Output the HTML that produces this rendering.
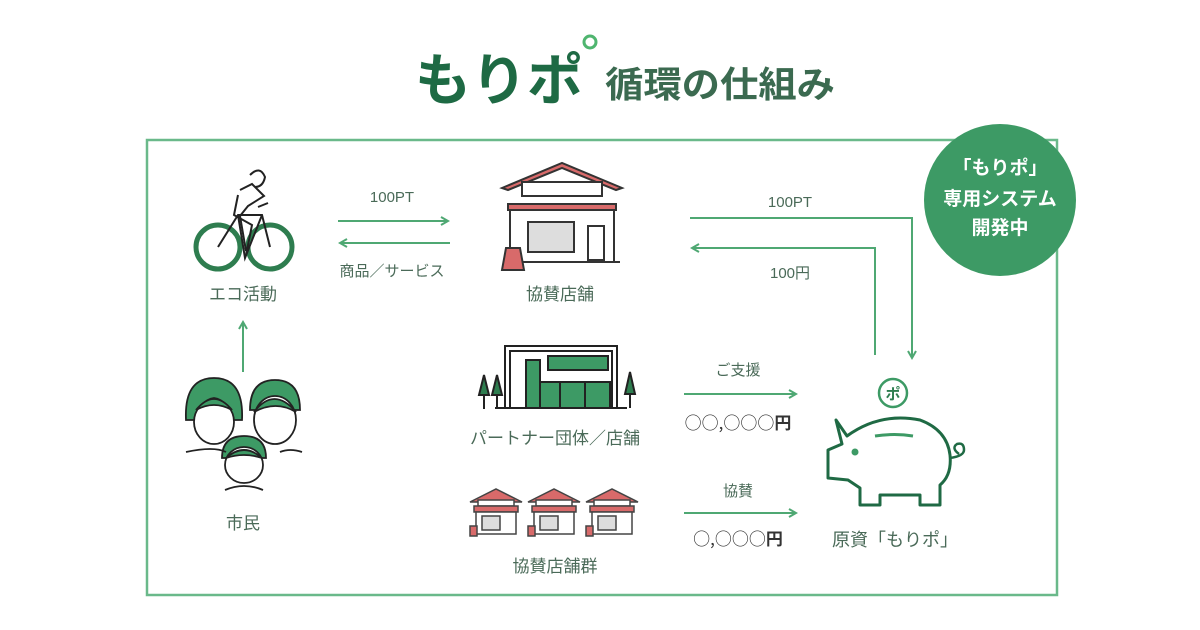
<!DOCTYPE html>
<html><head><meta charset="utf-8"><style>
html,body{margin:0;padding:0;background:#fff;width:1200px;height:630px;overflow:hidden}
svg{display:block}
text{font-family:"Liberation Sans","Noto Sans CJK JP",sans-serif}
.cjk{font-family:"Noto Sans CJK JP",sans-serif}
</style></head><body>
<svg width="1200" height="630" viewBox="0 0 1200 630" xmlns="http://www.w3.org/2000/svg">
<defs>
<marker id="ah" markerWidth="10" markerHeight="10" refX="8" refY="5" orient="auto" markerUnits="userSpaceOnUse">
<path d="M1,1 L8,5 L1,9" fill="none" stroke="#4fa873" stroke-width="2"/></marker>
</defs>
<!-- title -->
<text x="415" y="100" font-size="56" font-weight="bold" fill="#1e6a44" textLength="168" lengthAdjust="spacingAndGlyphs">もりポ</text>
<circle cx="590" cy="42" r="6" fill="none" stroke="#4fb56f" stroke-width="3"/>
<text x="605" y="97" font-size="36" font-weight="bold" fill="#3b6a50" textLength="230" lengthAdjust="spacingAndGlyphs">循環の仕組み</text>
<!-- border -->
<rect x="147" y="140" width="910" height="455" fill="none" stroke="#6ab98a" stroke-width="2.5"/>
<circle cx="1000" cy="200" r="76" fill="#3d9a65"/>
<text x="1000" y="174" font-size="19" font-weight="bold" fill="#fff" text-anchor="middle">「もりポ」</text>
<text x="1000" y="205" font-size="19" font-weight="bold" fill="#fff" text-anchor="middle">専用システム</text>
<text x="1000" y="234" font-size="19" font-weight="bold" fill="#fff" text-anchor="middle">開発中</text>
<!-- bike -->
<g fill="none" stroke="#222" stroke-width="2">
<circle cx="218" cy="247" r="22" stroke="#2e7d4f" stroke-width="5"/>
<circle cx="270" cy="247" r="22" stroke="#2e7d4f" stroke-width="5"/>
<path d="M218,247 L238,215 L262,215 L270,247 M238,215 L245,258 L262,215 M258,207 L268,203"/>
<path d="M250,175 q10,-10 15,2 q-2,10 -10,10 M240,190 l12,-6 l12,12 l-16,10 l-8,10 l6,35 M238,195 l-4,20 l18,10 l-6,30"/>
</g>
<text x="243" y="300" font-size="17" fill="#4a6a58" text-anchor="middle">エコ活動</text>
<!-- arrows top-left -->
<text x="392" y="202" font-size="15" fill="#4a6a58" text-anchor="middle">100PT</text>
<line x1="338" y1="221" x2="448" y2="221" stroke="#4fa873" stroke-width="2" marker-end="url(#ah)"/>
<line x1="450" y1="243" x2="340" y2="243" stroke="#4fa873" stroke-width="2" marker-end="url(#ah)"/>
<text x="392" y="276" font-size="15" fill="#4a6a58" text-anchor="middle">商品／サービス</text>
<!-- store -->
<g stroke="#333" stroke-width="2" fill="none">
<path d="M502,188 L562,163 L622,188 L616,190 L562,168 L508,190 Z" fill="#d86a6a"/>
<rect x="522" y="182" width="80" height="14" fill="#fff"/>
<path d="M508,204 h108 v6 h-108z" fill="#d86a6a"/>
<rect x="510" y="210" width="104" height="52"/>
<rect x="528" y="222" width="46" height="30" fill="#ddd"/>
<rect x="588" y="226" width="16" height="34"/>
<path d="M504,262 h116"/>
<path d="M506,248 h14 l4,22 h-22z" fill="#d86a6a"/>
</g>
<text x="560" y="300" font-size="17" fill="#4a6a58" text-anchor="middle">協賛店舗</text>
<!-- right loop -->
<polyline points="690,218 912,218 912,358" fill="none" stroke="#4fa873" stroke-width="2" marker-end="url(#ah)"/>
<polyline points="875,355 875,248 692,248" fill="none" stroke="#4fa873" stroke-width="2" marker-end="url(#ah)"/>
<text x="790" y="207" font-size="15" fill="#4a6a58" text-anchor="middle">100PT</text>
<text x="790" y="278" font-size="15" fill="#4a6a58" text-anchor="middle">100円</text>
<!-- up arrow -->
<line x1="243" y1="372" x2="243" y2="322" stroke="#4fa873" stroke-width="2" marker-end="url(#ah)"/>
<!-- people -->
<g stroke="#222" stroke-width="1.8">
<path d="M186,420 q-2,-42 28,-42 q30,0 28,42 l-10,0 q-4,-20 -18,-22 q-14,2 -18,22z" fill="#3d9a65"/>
<ellipse cx="214" cy="422" rx="20" ry="22" fill="#fff"/>
<path d="M196,410 q18,-22 36,0 q-18,-10 -36,0z" fill="#3d9a65"/>
<path d="M250,410 q0,-30 25,-30 q25,0 25,30 z" fill="#3d9a65"/>
<ellipse cx="275" cy="420" rx="21" ry="24" fill="#fff"/>
<path d="M254,412 q20,-26 42,0 q-20,-12 -42,0z" fill="#3d9a65"/>
<path d="M222,458 q0,-22 22,-22 q22,0 22,22z" fill="#3d9a65"/>
<ellipse cx="244" cy="465" rx="19" ry="18" fill="#fff"/>
<path d="M226,458 q18,-16 36,0 q-18,-6 -36,0z" fill="#3d9a65"/>
<path d="M225,490 q19,-8 38,0 M186,452 q28,-6 40,0 M280,452 q10,-4 22,0" fill="none"/>
</g>
<text x="243" y="529" font-size="17" fill="#4a6a58" text-anchor="middle">市民</text>
<!-- partner building -->
<g stroke="#222" stroke-width="2" fill="none">
<rect x="505" y="346" width="112" height="62"/>
<rect x="510" y="351" width="102" height="57"/>
<rect x="526" y="360" width="14" height="48" fill="#3d9a65"/>
<rect x="548" y="356" width="60" height="14" fill="#3d9a65"/>
<rect x="540" y="382" width="70" height="26" fill="#3d9a65"/>
<path d="M540,372 v36 M560,382 v26 M585,382 v26 M495,408 h132"/>
<path d="M484,375 l-5,20 h10z M497,375 l-5,20 h10z M630,372 l-5,22 h10z" fill="#2e7d4f"/>
<path d="M484,395 v14 M497,395 v14 M630,394 v14"/>
</g>
<text x="555" y="444" font-size="17" fill="#4a6a58" text-anchor="middle">パートナー団体／店舗</text>
<!-- shops group -->
<g stroke="#444" stroke-width="1.5">
<g id="s"><path d="M470,502 L496,489 L522,502 z" fill="#d86a6a"/><rect x="478" y="500" width="36" height="6" fill="#fff"/><rect x="474" y="506" width="44" height="6" fill="#d86a6a"/><rect x="476" y="512" width="40" height="22" fill="#fff"/><rect x="482" y="516" width="18" height="14" fill="#ddd"/><rect x="470" y="526" width="7" height="10" fill="#d86a6a"/></g>
<use href="#s" x="58"/><use href="#s" x="116"/>
</g>
<text x="555" y="572" font-size="17" fill="#4a6a58" text-anchor="middle">協賛店舗群</text>
<!-- middle arrows -->
<text x="738" y="375" font-size="15" fill="#4a6a58" text-anchor="middle">ご支援</text>
<line x1="684" y1="394" x2="796" y2="394" stroke="#4fa873" stroke-width="2" marker-end="url(#ah)"/>
<text x="738" y="429" font-size="17" fill="#333" text-anchor="middle" class="cjk">○○,○○○<tspan font-weight="bold">円</tspan></text>
<text x="738" y="496" font-size="15" fill="#4a6a58" text-anchor="middle">協賛</text>
<line x1="684" y1="513" x2="796" y2="513" stroke="#4fa873" stroke-width="2" marker-end="url(#ah)"/>
<text x="738" y="545" font-size="17" fill="#333" text-anchor="middle" class="cjk">○,○○○<tspan font-weight="bold">円</tspan></text>
<!-- piggy -->
<circle cx="893" cy="393" r="14" fill="none" stroke="#3d9a65" stroke-width="2.5"/>
<text x="893" y="399" font-size="15" font-weight="bold" fill="#2e7d4f" text-anchor="middle">ポ</text>
<path d="M836,420 L847,436 Q880,412 920,420 Q947,430 950,455 Q952,475 940,485 L940,505 L920,505 L920,495 L880,495 L880,505 L860,505 L860,488 L848,480 L828,478 L828,450 L842,444 Z" fill="none" stroke="#1f6a44" stroke-width="3" stroke-linejoin="round"/>
<path d="M950,458 q14,-2 14,-8 q0,-8 -7,-6 q-6,4 2,10" fill="none" stroke="#1f6a44" stroke-width="2.5"/>
<path d="M875,436 q20,-3 38,0" stroke="#3d9a65" stroke-width="3" fill="none"/>
<circle cx="855" cy="452" r="3.5" fill="#3d9a65"/>
<text x="895" y="546" font-size="18" fill="#4a6a58" text-anchor="middle">原資「もりポ」</text>
</svg>
</body></html>
